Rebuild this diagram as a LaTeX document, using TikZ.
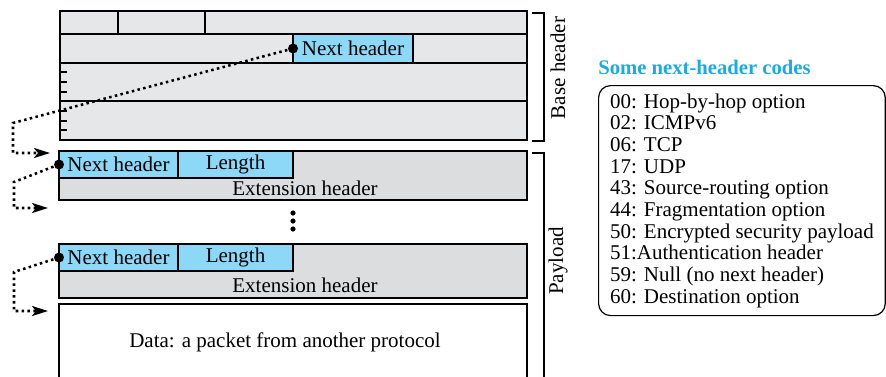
\documentclass[tikz,border=0pt]{standalone}
\usepackage{fontspec}
\setmainfont{Liberation Serif}
\usetikzlibrary{arrows.meta, fit}

\definecolor{basegray}{RGB}{230,231,232}
\definecolor{extgray}{RGB}{220,221,222}
\definecolor{fieldblue}{RGB}{141,215,247}
\definecolor{titleblue}{RGB}{28,170,228}

\begin{document}
\begin{tikzpicture}[
    x=0.75pt, y=-0.75pt,
    every node/.style={font=\fontsize{15.75}{16.25}\selectfont},
    frame/.style={draw, line width=0.9pt, inner sep=0pt, outer sep=0pt},
    basebox/.style={frame, fill=basegray},
    extbox/.style={frame, fill=extgray},
    databox/.style={frame, fill=white},
    field/.style={frame, fill=fieldblue},
    rule/.style={line width=0.9pt},
    link/.style={line width=1.9pt, dash pattern=on 1.9pt off 2.5pt, -{Stealth[length=12pt, width=7.5pt, inset=3pt]}},
    sidetext/.style={rotate=90},
    title/.style={font=\bfseries\fontsize{15.5}{18}\selectfont, text=titleblue, inner sep=0pt},
    codebox/.style={draw, line width=0.9pt, rounded corners=9pt, align=left, minimum width=215pt, minimum height=172.5pt, inner xsep=0pt}
]
\useasboundingbox (0,0) rectangle (886,376);

% ============ BASE HEADER ============
\node[basebox, fit={(60,11) (527,140)}] (base) {};
\foreach \y in {34,63,101}
    \draw[rule] (60,\y) -- (527,\y);
\draw[rule] (118,11) -- (118,34);
\draw[rule] (205,11) -- (205,34);
\foreach \y in {72,82,92,111,121,130}
    \draw[rule] (60,\y) -- (67,\y);
\node[field, fit={(293,34) (413,63)}, label=center:Next header] (nh0) {};

% ============ EXTENSION HEADERS ============
\node[extbox, fit={(59,151) (527,200)}] (ext1) {};
\node[field, fit={(59,151) (178,178)}, label=center:Next header] (nh1) {};
\node[field, fit={(178,151) (293,178)}, label=center:Length] (len1) {};
\node (ext1txt) at (305,188) {Extension header};

% Gap dots
\foreach \y in {213,221,229}
    \fill (293,\y) circle (2.6);

\node[extbox, fit={(59,244) (527,298)}] (ext2) {};
\node[field, fit={(59,244) (178,271)}, label=center:Next header] (nh2) {};
\node[field, fit={(178,244) (293,271)}, label=center:Length] (len2) {};
\node (ext2txt) at (305,285) {Extension header};

% ============ DATA ============
\node[databox, fit={(59,304) (527,382)}] (data) {};
\node (datatxt) at (285,342) {Data: a packet from another protocol};

% ============ BRACKETS ============
\draw[rule] (532,13) -- (544,13) -- (544,141) -- (532,141);
\node[sidetext] (basetxt) at (558,68) {Base header};
\draw[rule] (532,153) -- (544,153) -- (544,382);
\node[sidetext] (payloadtxt) at (558,261) {Payload};

% ============ NEXT-HEADER CHAIN ============
\draw[link] (nh0.west) -- (13,123) |- ([shift={(-9,2)}]ext1.north west);
\draw[link] (nh1.west) -- (14,182) |- ([shift={(-11,8)}]ext1.south west);
\draw[link] (nh2.west) -- (14,272) |- ([shift={(-11,7)}]data.north west);
\foreach \n in {nh0,nh1,nh2}
    \fill (\n.west) circle (5);

% ============ CODE LIST ============
\node[title, anchor=west] (codestitle) at (598,67) {Some next-header codes};
\node[codebox, anchor=north west] (codes) at (598,85) {
    00: Hop-by-hop option\\
    02: ICMPv6\\
    06: TCP\\
    17: UDP\\
    43: Source-routing option\\
    44: Fragmentation option\\
    50: Encrypted security payload\\
    51:Authentication header\\
    59: Null (no next header)\\
    60: Destination option
};

\end{tikzpicture}
\end{document}
